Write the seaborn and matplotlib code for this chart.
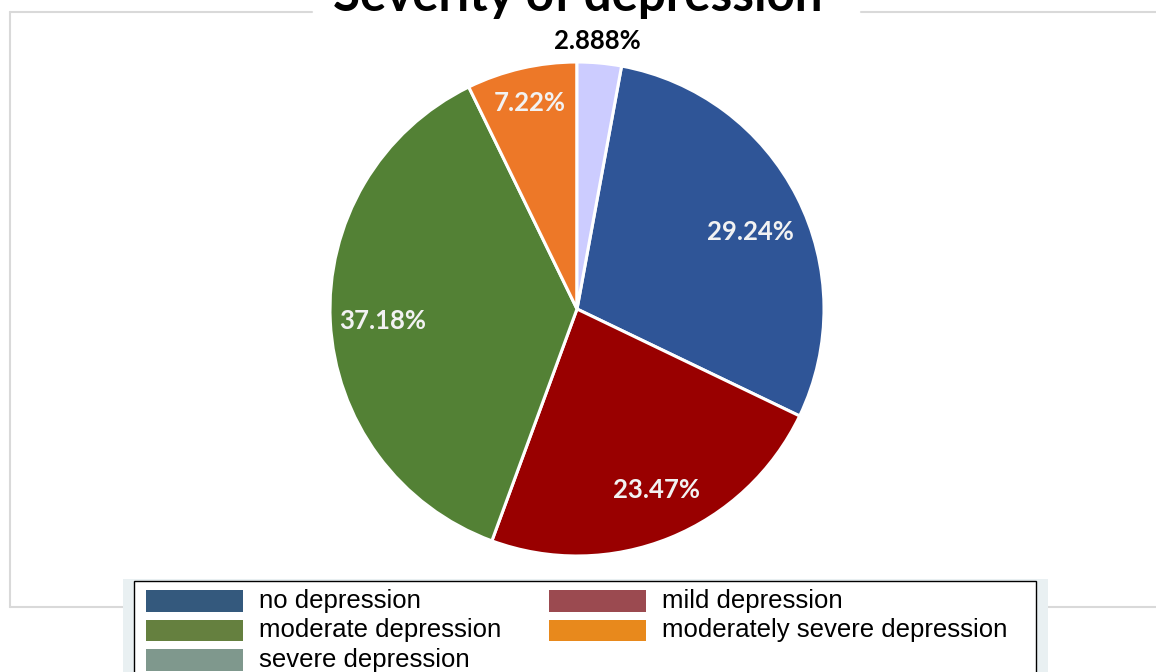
import matplotlib
matplotlib.use("Agg")
import matplotlib.pyplot as plt
from matplotlib.patches import Rectangle
from matplotlib.lines import Line2D
import numpy as np
import seaborn as sns

# Data
categories = ["no depression", "mild depression", "moderate depression",
              "moderately severe depression", "severe depression"]
shares = [29.24, 23.47, 37.18, 7.22, 2.888]
pie_colors = ["#2f5597", "#990000", "#538135", "#ed7828", "#ccccff"]
legend_colors = ["#34597d", "#9b4a50", "#65803f", "#e8891c", "#7f988d"]
label_colors = ["#f2f2f2", "#f2f2f2", "#f2f2f2", "#f2f2f2", "#000000"]
# label placement: fraction of radius and angular nudge (degrees)
label_dist = [0.77, 0.80, 0.79, 0.855, 1.09]
label_nudge = [-3.0, 1.5, 0.6, 0.0, 0.9]
title = "Severity of depression"

sns.set_theme(style="white")
plt.rcParams["font.family"] = ["Lato", "DejaVu Sans"]

W, H = 1156, 672
fig = plt.figure(figsize=(W / 100, H / 100), dpi=100)
fig.patch.set_facecolor("white")
ax = fig.add_axes([0, 0, 1, 1])


def Y(y):
    # y measured from the top edge -> axes y measured from the bottom
    return H - y


# Pie
cx, cy, R = 577, Y(309), 247
total = sum(shares)
start = 90 - 360 * shares[-1] / total
wedges, _ = ax.pie(shares, colors=sns.color_palette(pie_colors), startangle=start,
                   counterclock=False, center=(cx, cy), radius=R,
                   wedgeprops=dict(edgecolor="white", linewidth=2.2))

for w, v, c, d, n in zip(wedges, shares, label_colors, label_dist, label_nudge):
    mid = np.deg2rad((w.theta1 + w.theta2) / 2 + n)
    ax.text(cx + d * R * np.cos(mid), cy + d * R * np.sin(mid), f"{v:g}%",
            ha="center", va="center", color=c, fontsize=18.5, fontweight="bold")

ax.set_xlim(0, W)
ax.set_ylim(0, H)
ax.set_aspect("auto")
ax.axis("off")

# Outer chart frame, broken by the title
gray = "#d9d9d9"
for xs, ys in [([10, 312], [12, 12]), ([861, W], [12, 12]),
               ([10, 10], [12, 607]), ([10, 123], [607, 607]),
               ([1048, W], [607, 607])]:
    ax.add_line(Line2D(xs, [Y(v) for v in ys], color=gray, lw=1.5, zorder=1))

ax.text(578, Y(11), title, ha="center", va="baseline", fontsize=35.5,
        fontweight="bold", color="black")

# Legend panel
ax.add_patch(Rectangle((123, Y(690)), 1048 - 123, 690 - 579,
                       facecolor="#e9f0f2", edgecolor="none", zorder=3))
ax.add_patch(Rectangle((134, Y(690)), 1036 - 134, 690 - 581,
                       facecolor="white", edgecolor="black", lw=1, zorder=4))
col_x = [146, 549]
row_y = [590, 619.5, 649]
for i, (name, col) in enumerate(zip(categories, legend_colors)):
    r, c = divmod(i, 2)
    x0, y0 = col_x[c], row_y[r]
    ax.add_patch(Rectangle((x0, Y(y0 + 21.5)), 97, 21.5, facecolor=col,
                           edgecolor="none", zorder=5))
    ax.text(x0 + 113, Y(y0 + 11), name, ha="left", va="center", fontsize=18.5,
            family=["Liberation Sans", "DejaVu Sans"], color="black", zorder=6)

fig.savefig("out.png", dpi=100)
